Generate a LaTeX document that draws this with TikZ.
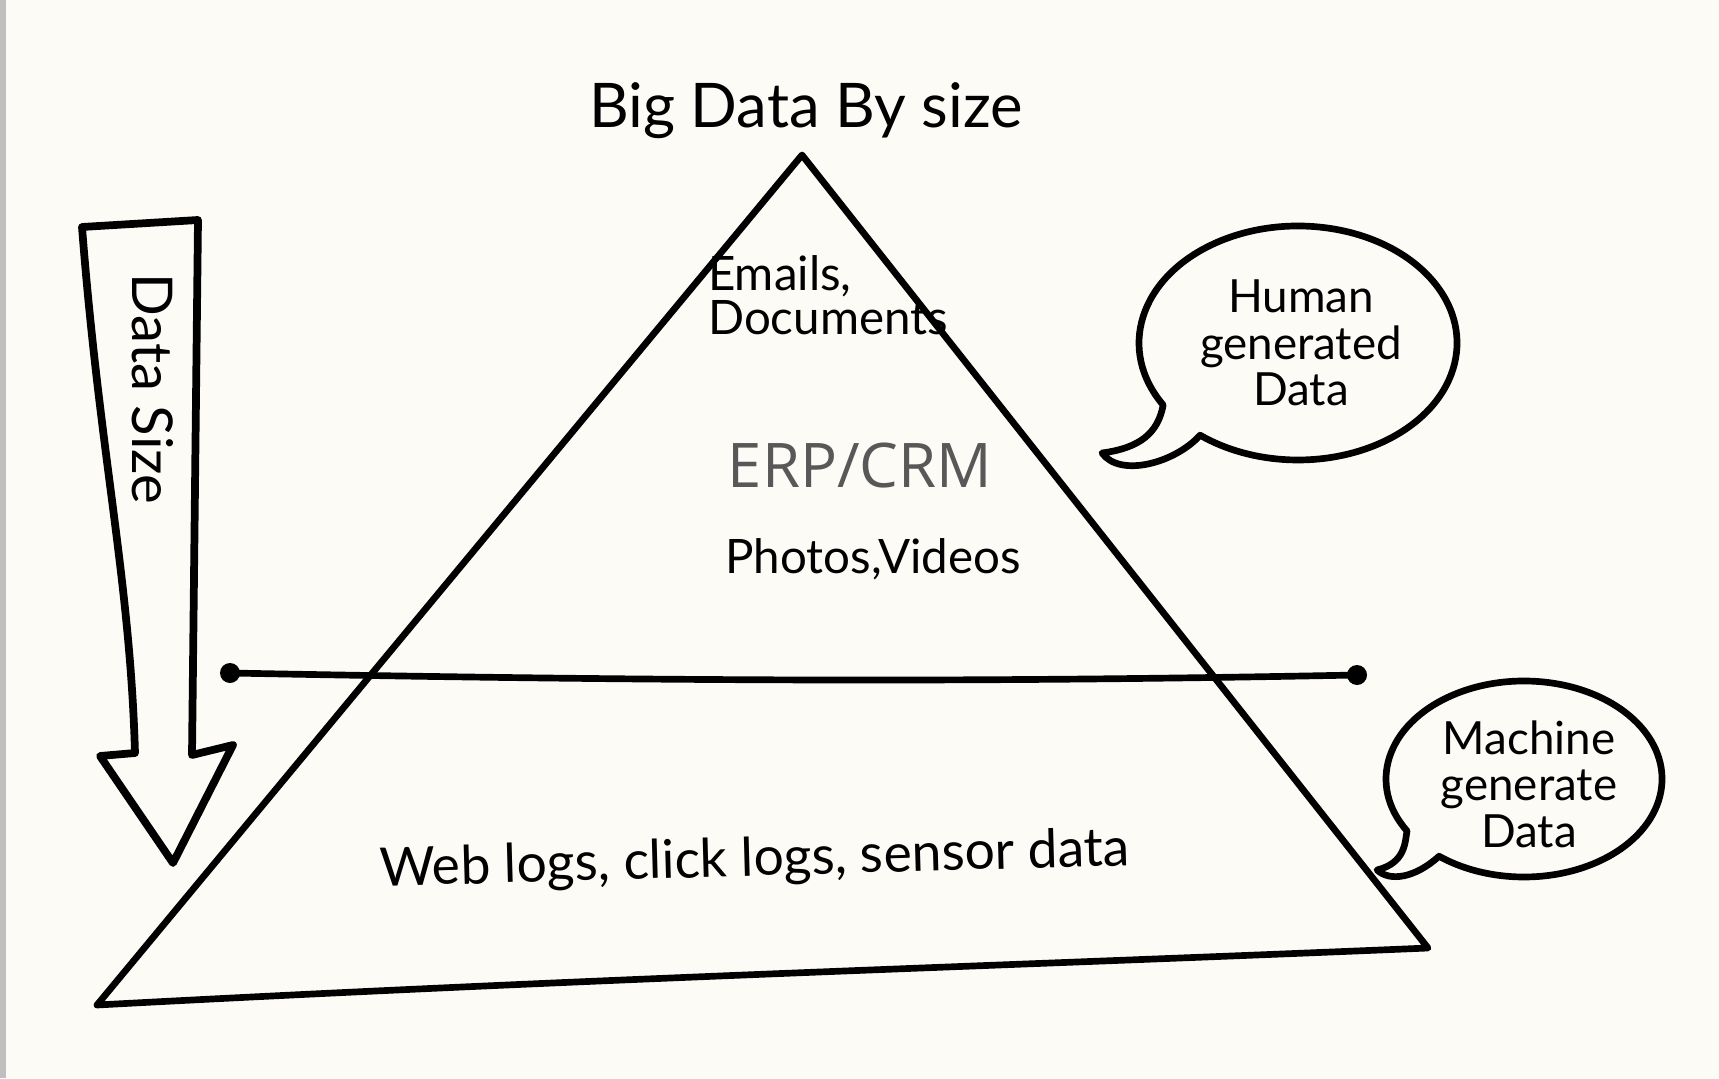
\documentclass[tikz,border=0pt]{standalone}
\usepackage{fontspec}
\setmainfont{Lato}
\newfontfamily\erpfont{Open Sans}
\usetikzlibrary{positioning}
\definecolor{paper}{RGB}{252,251,246}
\definecolor{erpgray}{RGB}{88,88,88}

\begin{document}
\begin{tikzpicture}[x=0.01cm, y=0.01cm, line join=round, line cap=round,
  ink/.style={line width=1.9pt},
  hand/.style={inner sep=1pt, font=\fontsize{#1}{#1}\selectfont},
  hand/.default=14,
  bubbletext/.style={inner sep=1pt, align=center, font=\fontsize{13}{13.2}\selectfont}]
  \fill[paper] (0,0) rectangle (1719,1078);
  \fill[black!25] (0,0) rectangle (6,1078);
  \useasboundingbox (0,0) rectangle (1719,1078);
  % pyramid
  \coordinate (apex) at (802,923);
  \coordinate (bl) at (97,73);
  \coordinate (br) at (1428,130);
  \draw[ink] (apex) -- (bl) .. controls (600,100) and (1000,112) .. (br) -- cycle;
  % split line
  \coordinate (lft) at (230,405);
  \coordinate (rgt) at (1357,403);
  \draw[ink] (lft) .. controls (700,396) and (1000,396) .. (rgt);
  \foreach \p in {lft,rgt} {\fill (\p) circle (10);}
  % size arrow
  \coordinate (atl) at (82,851);
  \coordinate (atr) at (198,858);
  \coordinate (abl) at (135,325);
  \coordinate (abr) at (192,323);
  \coordinate (ahl) at (100,322);
  \coordinate (ahr) at (233,333);
  \coordinate (atip) at (173,215);
  \draw[ink, line width=2.2pt, fill=paper] (atl) .. controls (100,620) and (130,500) .. (abl)
    -- (ahl) -- (atip) -- (ahr) -- (abr) -- (atr) -- cycle;
  \node[hand=16, rotate=-90] (size) at (153,689) {Data Size};
  % labels
  \node[hand=17.5, anchor=base] (title) at (806,950) {Big Data By size};
  \node[hand=13.5, align=left] (emails) at (828,783) {Emails,\\[-1pt]Documents};
  \node[inner sep=1pt, anchor=base, text=erpgray, font=\erpfont\fontsize{17.5}{20}\selectfont] (erp) at (860,591) {ERP/CRM};
  \node[hand=13.5, anchor=base] (photos) at (873,505) {Photos,Videos};
  \node[hand=15.2, rotate=1.6] (weblogs) at (755,217) {Web logs, click logs, sensor data};
  % speech bubbles
  \coordinate (hc) at (1298,735);
  \coordinate (htip) at (1102,625);
  \draw[ink, fill=paper] (hc) ++(212:159 and 117)
    arc[start angle=212, end angle=-128, x radius=159, y radius=117]
    .. controls (1175,615) and (1120,600) .. (htip)
    .. controls (1140,630) and (1158,645) .. cycle;
  \node[bubbletext] (human) at (1301,735) {Human\\generated\\Data};
  \coordinate (mc) at (1524,299);
  \coordinate (mtip) at (1377,208);
  \draw[ink, fill=paper] (mc) ++(212:138 and 98)
    arc[start angle=212, end angle=-128, x radius=138, y radius=98]
    .. controls (1415,200) and (1390,196) .. (mtip)
    .. controls (1405,215) and (1405,235) .. cycle;
  \node[bubbletext] (machine) at (1529,294) {Machine\\generate\\Data};
\end{tikzpicture}
\end{document}
